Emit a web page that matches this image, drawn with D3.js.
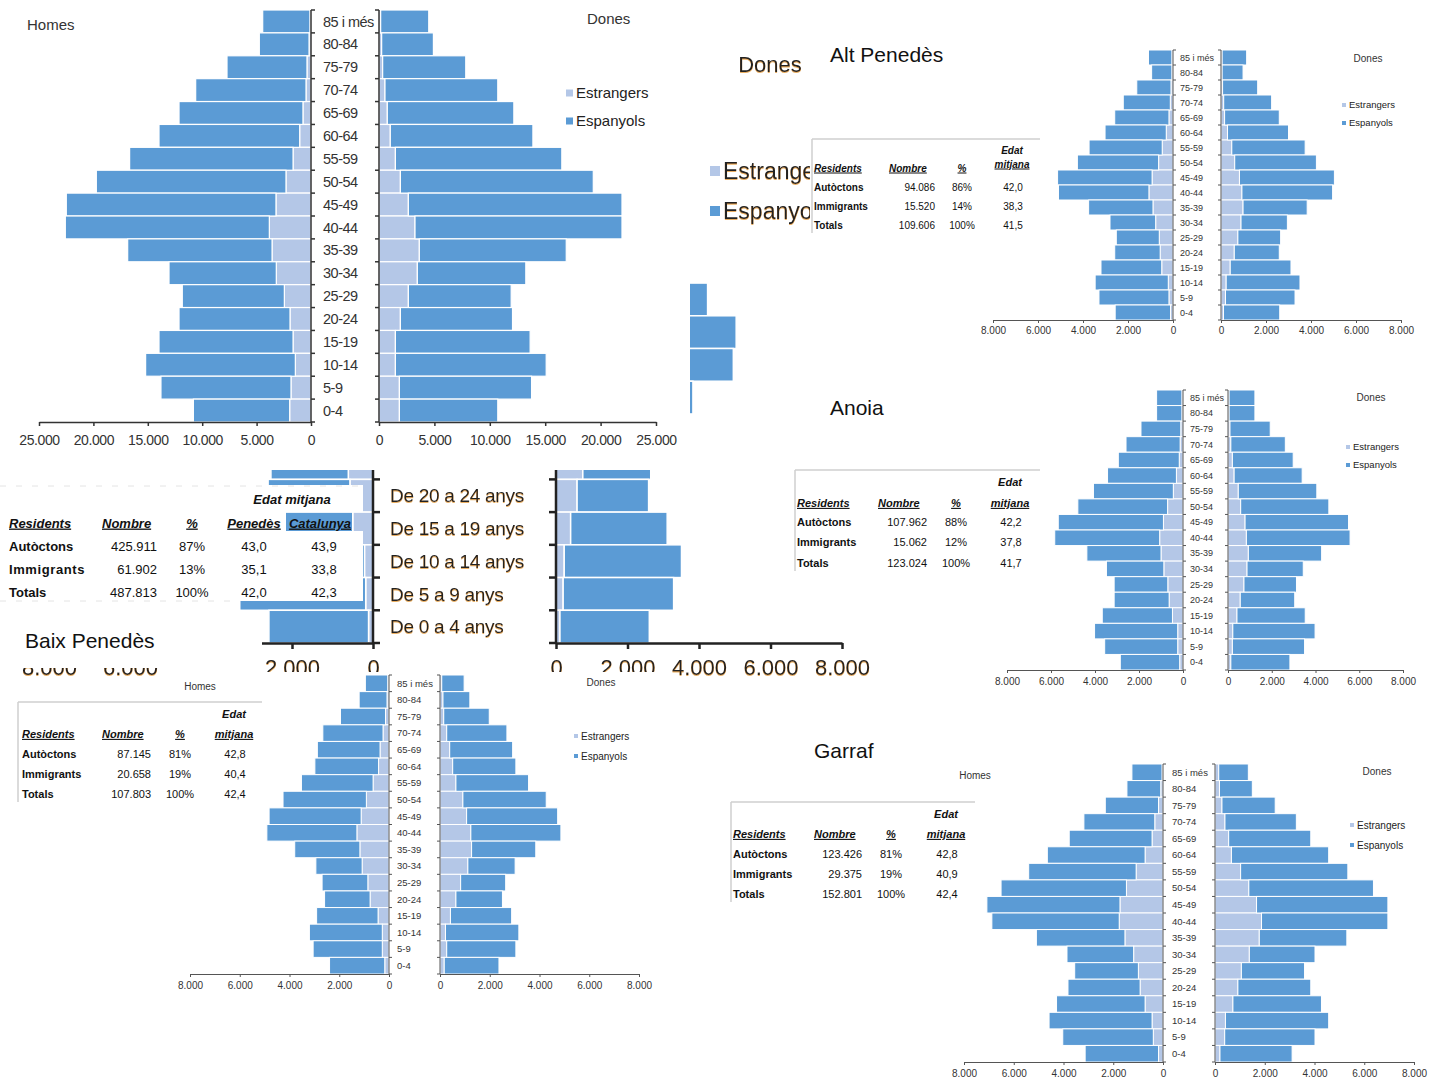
<!DOCTYPE html>
<html><head><meta charset="utf-8">
<script src="https://cdn.jsdelivr.net/npm/d3@7"></script>
<style>
html,body{margin:0;padding:0;background:#fff;}
svg{display:block;}
text{font-family:"Liberation Sans",Arial,sans-serif;}
</style></head><body>
<svg id="c" width="1438" height="1077"></svg>
<script>
// ---------- categories ----------
const ages = ["85 i més","80-84","75-79","70-74","65-69","60-64","55-59","50-54","45-49","40-44","35-39","30-34","25-29","20-24","15-19","10-14","5-9","0-4"];
const zoomAges = ["De 85 anys i més","De 80 a 84 anys","De 75 a 79 anys","De 70 a 74 anys","De 65 a 69 anys","De 60 a 64 anys","De 55 a 59 anys","De 50 a 54 anys","De 45 a 49 anys","De 40 a 44 anys","De 35 a 39 anys","De 30 a 34 anys","De 25 a 29 anys","De 20 a 24 anys","De 15 a 19 anys","De 10 a 14 anys","De 5 a 9 anys","De 0 a 4 anys"];
const legendLabels = ["Estrangers","Espanyols"];

// ---------- Penedès (total) ----------
const penedesHomesEstr  = [100,180,370,460,740,1040,1650,2300,3220,3830,3580,3190,2450,1930,1650,1440,1840,1960];
const penedesHomesTotal = [4440,4750,7720,10600,12130,13970,16670,19730,22490,22580,16850,13050,11830,12130,13970,15200,13790,10810];
const penedesDonesEstr  = [150,240,330,540,750,1020,1480,1930,2650,3250,3640,3460,2650,1930,1480,1480,1840,1840];
const penedesDonesTotal = [4490,4910,7830,10720,12170,13890,16500,19340,21930,21930,16900,13250,11930,12050,13640,15090,13770,10720];

// ---------- Alt Penedès ----------
const altHomesEstr  = [50,50,90,120,180,300,480,640,930,1070,890,770,610,570,500,210,180,110];
const altHomesTotal = [1090,950,1610,2210,2590,3020,3730,4250,5130,5090,3750,2800,2520,2590,3200,3460,3290,2570];
const altDonesEstr  = [50,50,70,120,160,290,480,610,820,930,980,890,750,590,410,230,200,110];
const altDonesTotal = [1140,980,1630,2250,2590,3000,3740,4240,5040,4960,3830,2950,2650,2590,3110,3510,3290,2610];

// ---------- Anoia ----------
const anoiaHomesEstr  = [50,50,100,130,170,300,440,700,890,1060,1000,870,690,630,480,240,240,150];
const anoiaHomesTotal = [1200,1200,1910,2590,2940,3430,4070,4780,5670,5830,4370,3480,3130,3130,3670,4020,3560,2850];
const anoiaDonesEstr  = [50,50,90,130,200,280,470,580,780,840,930,870,730,560,410,220,200,130];
const anoiaDonesTotal = [1230,1230,1930,2620,2980,3390,4060,4610,5510,5580,4280,3440,3130,3050,3530,3980,3500,2830];

// ---------- Baix Penedès ----------
const baixHomesEstr  = [50,80,140,240,360,420,640,910,1120,1290,1170,1080,850,760,440,270,270,170];
const baixHomesTotal = [950,1200,1950,2660,2880,2980,3520,4260,4820,4910,3790,2940,2690,2590,2910,3200,3050,2390];
const baixDonesEstr  = [70,120,150,270,390,510,640,920,1070,1240,1270,1120,830,640,420,220,270,170];
const baixDonesTotal = [970,1200,1980,2690,2920,3050,3560,4270,4730,4860,3850,3020,2640,2510,2880,3170,3050,2370];

// ---------- Garraf ----------
const garrafHomesEstr  = [40,90,180,330,440,720,1080,1470,1730,1760,1530,1180,990,920,720,440,390,180];
const garrafHomesTotal = [1250,1450,2320,3180,3770,4650,5400,6510,7080,6880,5090,3860,3550,3820,4280,4580,4030,3130];
const garrafDonesEstr  = [150,180,280,400,550,660,1030,1360,1670,1870,1780,1380,1060,920,720,420,390,200];
const garrafDonesTotal = [1340,1500,2420,3270,3850,4570,5340,6370,6950,6950,5300,4020,3600,3850,4280,4570,4020,3100];

// ---------- tables ----------
const penedesHeaders = ["Residents","Nombre","%","Penedès","Catalunya"];
const penedesRows = [["Autòctons","425.911","87%","43,0","43,9"],["Immigrants","61.902","13%","35,1","33,8"],["Totals","487.813","100%","42,0","42,3"]];
const compHeaders = ["Residents","Nombre","%","mitjana"];
const altRows   = [["Autòctons","94.086","86%","42,0"],["Immigrants","15.520","14%","38,3"],["Totals","109.606","100%","41,5"]];
const anoiaRows = [["Autòctons","107.962","88%","42,2"],["Immigrants","15.062","12%","37,8"],["Totals","123.024","100%","41,7"]];
const baixRows  = [["Autòctons","87.145","81%","42,8"],["Immigrants","20.658","19%","40,4"],["Totals","107.803","100%","42,4"]];
const garrafRows= [["Autòctons","123.426","81%","42,8"],["Immigrants","29.375","19%","40,9"],["Totals","152.801","100%","42,4"]];

const DARK = "#5b9bd5", LIGHT = "#b4c7e7";
const NARROW = '"Liberation Sans Narrow","Arial Narrow","Liberation Sans",Arial,sans-serif';
const SANS = '"Liberation Sans",Arial,sans-serif';
const fmt = d3.formatLocale({decimal:",",thousands:".",grouping:[3],currency:["",""]}).format(",d");

const svg = d3.select("#c");
const defs = svg.append("defs");
const flt = defs.append("filter").attr("id","ca").attr("x","-5%").attr("y","-20%").attr("width","110%").attr("height","140%");
flt.append("feFlood").attr("flood-color","#e39a3a").attr("flood-opacity",0.8).attr("result","f");
flt.append("feComposite").attr("in","f").attr("in2","SourceAlpha").attr("operator","in").attr("result","o");
flt.append("feOffset").attr("in","o").attr("dx",0).attr("dy",1).attr("result","oo");
flt.append("feMerge").call(m=>{m.append("feMergeNode").attr("in","oo");m.append("feMergeNode").attr("in","SourceGraphic");});
defs.append("clipPath").attr("id","legclip").append("rect").attr("x",0).attr("y",0).attr("width",810).attr("height",1077);

function drawPyramid(root, c) {
  const g = root.append("g");
  const y = d3.scaleBand().domain(c.cats).range([c.top, c.bottom]);
  const xL = d3.scaleLinear().domain([0, c.max]).range([c.lx0, c.lx1]);
  const xR = d3.scaleLinear().domain([0, c.max]).range([c.rx0, c.rx1]);
  const idx = d3.range(c.cats.length);
  const bw = y.bandwidth();
  const bars = g.append("g").attr("stroke","#fff").attr("stroke-width", c.sw);
  bars.selectAll(".hl").data(idx).join("rect").attr("fill",LIGHT)
    .attr("x", i=>xL(c.hE[i])).attr("y", i=>y(c.cats[i])).attr("width", i=>xL(0)-xL(c.hE[i])).attr("height", bw);
  bars.selectAll(".hd").data(idx).join("rect").attr("fill",DARK)
    .attr("x", i=>xL(c.hT[i])).attr("y", i=>y(c.cats[i])).attr("width", i=>xL(c.hE[i])-xL(c.hT[i])).attr("height", bw);
  bars.selectAll(".dl").data(idx).join("rect").attr("fill",LIGHT)
    .attr("x", xR(0)).attr("y", i=>y(c.cats[i])).attr("width", i=>xR(c.dE[i])-xR(0)).attr("height", bw);
  bars.selectAll(".dd").data(idx).join("rect").attr("fill",DARK)
    .attr("x", i=>xR(c.dE[i])).attr("y", i=>y(c.cats[i])).attr("width", i=>xR(c.dT[i])-xR(c.dE[i])).attr("height", bw);
  // vertical axes
  const bounds = c.cats.map(d=>y(d)).concat([c.bottom]);
  const ax = g.append("g").attr("stroke", c.axisColor).attr("stroke-width", c.aw);
  ax.append("line").attr("x1",c.lx0).attr("x2",c.lx0).attr("y1",c.top).attr("y2",c.bottom);
  ax.append("line").attr("x1",c.rx0).attr("x2",c.rx0).attr("y1",c.top).attr("y2",c.bottom);
  ax.selectAll(".tl").data(bounds).join("line").attr("x1",c.lx0).attr("x2",c.lx0+c.vt).attr("y1",d=>d).attr("y2",d=>d);
  ax.selectAll(".tr").data(bounds).join("line").attr("x1",c.rx0).attr("x2",c.rx0-c.vt).attr("y1",d=>d).attr("y2",d=>d);
  // bottom axes
  [xL, xR].forEach(sc=>{
    const a = d3.axisBottom(sc).tickValues(d3.range(0, c.max+1, c.step)).tickFormat(fmt).tickSize(c.ht).tickSizeOuter(0);
    const ag = g.append("g").attr("transform",`translate(0,${c.bottom})`).call(a);
    ag.select(".domain").attr("stroke", c.axisColor).attr("stroke-width", c.aw);
    ag.selectAll(".tick line").attr("stroke", c.axisColor).attr("stroke-width", c.aw);
    ag.selectAll(".tick text").attr("y", c.tickY - c.bottom).attr("dy","0.35em")
      .attr("font-size", c.tfs).attr("font-family", c.ff).attr("fill", c.tc||"#333")
      .attr("filter", c.filter||null).attr("letter-spacing", c.tls||null);
    ag.attr("font-family", null);
  });
  // category labels (only those inside the visible window)
  const minY = c.labelMinY == null ? -1e9 : c.labelMinY;
  g.append("g").selectAll("text").data(c.cats.filter(d=>y(d)+bw/2 >= minY)).join("text")
    .attr("x", c.labelX).attr("y", d=>y(d)+bw/2).attr("dy","0.35em")
    .attr("font-size", c.lfs).attr("font-family", c.ff).attr("fill", c.lc||"#333")
    .attr("filter", c.filter||null).attr("letter-spacing", c.ls||null)
    .text(d=>d);
  return g;
}

function legend(root, x, y0, dy, fs, sq, ff, filter, clip) {
  const g = root.append("g").attr("clip-path", clip||null);
  const cols = [LIGHT, DARK];
  legendLabels.forEach((t,i)=>{
    g.append("rect").attr("x",x).attr("y",y0+i*dy-sq/2).attr("width",sq).attr("height",sq).attr("fill",cols[i]);
    g.append("text").attr("x",x+sq+3).attr("y",y0+i*dy).attr("dy","0.35em").attr("font-size",fs)
      .attr("font-family",ff).attr("fill","#222").attr("filter",filter||null).text(t);
  });
}

function label(root, x, y, t, fs, opts={}) {
  return root.append("text").attr("x",x).attr("y",y).attr("dy","0.35em").attr("font-size",fs)
    .attr("fill",opts.fill||"#222").attr("font-family",opts.ff||null).attr("text-anchor",opts.anchor||"start")
    .attr("filter",opts.filter||null).attr("font-weight",opts.weight||null).text(t);
}

function compTable(root, c, rows) {
  const g = root.append("g").attr("font-size", c.fs).attr("fill","#111");
  g.append("line").attr("x1",c.x0).attr("x2",c.right).attr("y1",c.top).attr("y2",c.top).attr("stroke","#cfcfcf").attr("stroke-width",1.5);
  g.append("line").attr("x1",c.x0).attr("x2",c.x0).attr("y1",c.top).attr("y2",c.rowY0+2*c.step+8).attr("stroke","#cfcfcf").attr("stroke-width",1.5);
  const hdr = (x,y,t,anchor,ul)=>g.append("text").attr("x",x).attr("y",y).attr("dy","0.35em").attr("text-anchor",anchor)
    .attr("font-weight","bold").attr("font-style","italic").attr("text-decoration",ul?"underline":null).text(t);
  hdr(c.edatX, c.edatY, "Edat", "middle", false);
  hdr(c.resX, c.headerY, compHeaders[0], "start", true);
  hdr(c.nomX, c.headerY, compHeaders[1], "start", true);
  hdr(c.pctX, c.headerY, compHeaders[2], "middle", true);
  hdr(c.edatX, c.mitY || c.headerY, compHeaders[3], "middle", true);
  rows.forEach((r,i)=>{
    const yy = c.rowY0 + i*c.step;
    g.append("text").attr("x",c.resX).attr("y",yy).attr("dy","0.35em").attr("font-weight","bold").text(r[0]);
    g.append("text").attr("x",c.nomR).attr("y",yy).attr("dy","0.35em").attr("text-anchor","end").text(r[1]);
    g.append("text").attr("x",c.pctX).attr("y",yy).attr("dy","0.35em").attr("text-anchor","middle").text(r[2]);
    g.append("text").attr("x",c.edatX+1).attr("y",yy).attr("dy","0.35em").attr("text-anchor","middle").text(r[3]);
  });
}

// ===== 1. zoomed Alt Penedès chart (underneath) =====
drawPyramid(svg, {cats: zoomAges, hE: altHomesEstr, hT: altHomesTotal, dE: altDonesEstr, dT: altDonesTotal,
  max: 8000, step: 2000, lx0: 373, lx1: 49, rx0: 556, rx1: 842, top: 54, bottom: 643,
  sw: 1.5, axisColor: "#222", aw: 2.5, vt: 7, ht: 6, tickY: 667, tfs: 22, ff: SANS,
  labelX: 390, lfs: 19, lc: "#222", filter: "url(#ca)", ls: "-0.3", tc: "#222", labelMinY: 475});
label(svg, 770, 64, "Dones", 22, {anchor:"middle", filter:"url(#ca)"});
legend(svg, 710, 171, 40, 23, 10, SANS, "url(#ca)", "url(#legclip)");

// ===== 2. Penedès big pyramid =====
svg.append("rect").attr("x",0).attr("y",0).attr("width",690).attr("height",470).attr("fill","#fff");
drawPyramid(svg, {cats: ages, hE: penedesHomesEstr, hT: penedesHomesTotal, dE: penedesDonesEstr, dT: penedesDonesTotal,
  max: 25000, step: 5000, lx0: 311, lx1: 39, rx0: 379, rx1: 656, top: 10, bottom: 422,
  sw: 1.2, axisColor: "#333", aw: 1.5, vt: 4, ht: 4, tickY: 440, tfs: 14, tls: "-0.4", ff: SANS,
  labelX: 323, lfs: 14.5, lc: "#333", ls: "-0.5"});
label(svg, 27, 25, "Homes", 15, {fill:"#333"});
label(svg, 587, 19, "Dones", 15, {fill:"#333"});
legend(svg, 566, 93, 28, 15, 7, SANS);

// ===== 3. Alt Penedès =====
svg.append("rect").attr("x",810).attr("y",0).attr("width",628).attr("height",345).attr("fill","#fff");
label(svg, 830, 55, "Alt Penedès", 21, {fill:"#111"});
drawPyramid(svg, {cats: ages, hE: altHomesEstr, hT: altHomesTotal, dE: altDonesEstr, dT: altDonesTotal,
  max: 8000, step: 2000, lx0: 1173, lx1: 993, rx0: 1221, rx1: 1401, top: 50, bottom: 320,
  sw: 1, axisColor: "#555", aw: 1, vt: 3, ht: 3, tickY: 330, tfs: 10, ff: NARROW,
  labelX: 1180, lfs: 9, lc: "#333"});
label(svg, 1368, 58, "Dones", 10, {anchor:"middle", ff: NARROW, fill:"#333"});
legend(svg, 1342, 105, 18, 9.5, 4, NARROW);
compTable(svg, {x0:812, right:1040, top:139, fs:10, edatX:1012, edatY:150, headerY:168, mitY:164, resX:814, nomX:889, nomR:935, pctX:962, rowY0:187, step:19}, altRows);

// ===== 4. Penedès summary table (over zoom chart) =====
const tw = svg.append("g").attr("fill","#fff");
tw.append("rect").attr("x",0).attr("y",485).attr("width",363).attr("height",27);
tw.append("rect").attr("x",0).attr("y",512).attr("width",286).attr("height",19);
tw.append("rect").attr("x",0).attr("y",531).attr("width",363).attr("height",70);
svg.append("line").attr("x1",0).attr("x2",363).attr("y1",486).attr("y2",486).attr("stroke","#e4e4e4").attr("stroke-dasharray","6,10");
svg.append("line").attr("x1",0).attr("x2",240).attr("y1",601).attr("y2",601).attr("stroke","#e4e4e4").attr("stroke-dasharray","6,10");
{
  const g = svg.append("g").attr("font-size",13).attr("fill","#111");
  g.append("text").attr("x",292).attr("y",499).attr("dy","0.35em").attr("text-anchor","middle").attr("font-weight","bold").attr("font-style","italic").text("Edat mitjana");
  const hx = [[9,"start"],[102,"start"],[192,"middle"],[254,"middle"],[320,"middle"]];
  penedesHeaders.forEach((h,i)=>g.append("text").attr("x",hx[i][0]).attr("y",523).attr("dy","0.35em").attr("text-anchor",hx[i][1])
    .attr("font-weight","bold").attr("font-style","italic").attr("text-decoration","underline").text(h));
  const cx = [[9,"start"],[157,"end"],[192,"middle"],[254,"middle"],[324,"middle"]];
  penedesRows.forEach((r,j)=>r.forEach((v,i)=>g.append("text").attr("x",cx[i][0]).attr("y",546+j*23).attr("dy","0.35em")
    .attr("text-anchor",cx[i][1]).attr("font-weight",i===0?"bold":null).attr("letter-spacing",(i===0&&j===1)?"0.6":null).text(v)));
}

// ===== 5. Anoia =====
label(svg, 830, 408, "Anoia", 21, {fill:"#111"});
drawPyramid(svg, {cats: ages, hE: anoiaHomesEstr, hT: anoiaHomesTotal, dE: anoiaDonesEstr, dT: anoiaDonesTotal,
  max: 8000, step: 2000, lx0: 1183, lx1: 1007, rx0: 1228, rx1: 1403, top: 390, bottom: 670,
  sw: 1, axisColor: "#555", aw: 1, vt: 3, ht: 3, tickY: 681, tfs: 10, ff: NARROW,
  labelX: 1190, lfs: 9, lc: "#333"});
label(svg, 1371, 397, "Dones", 10, {anchor:"middle", ff: NARROW, fill:"#333"});
legend(svg, 1346, 447, 18, 9.5, 4, NARROW);
compTable(svg, {x0:795, right:1040, top:470, fs:11, edatX:1010, edatY:482, headerY:503, resX:797, nomX:878, nomR:927, pctX:956, rowY0:522, step:20.5}, anoiaRows);

// ===== 6. Baix Penedès =====
svg.append("rect").attr("x",0).attr("y",611).attr("width",262).attr("height",57).attr("fill","#fff");
svg.append("rect").attr("x",160).attr("y",665).attr("width",102).attr("height",340).attr("fill","#fff");
svg.append("rect").attr("x",262).attr("y",672).attr("width",398).attr("height",330).attr("fill","#fff");
label(svg, 25, 641, "Baix Penedès", 21, {fill:"#111"});
drawPyramid(svg, {cats: ages, hE: baixHomesEstr, hT: baixHomesTotal, dE: baixDonesEstr, dT: baixDonesTotal,
  max: 8000, step: 2000, lx0: 389, lx1: 190, rx0: 440, rx1: 639, top: 675, bottom: 974,
  sw: 1, axisColor: "#555", aw: 1, vt: 3, ht: 3, tickY: 985, tfs: 10, ff: NARROW,
  labelX: 397, lfs: 9.5, lc: "#333"});
label(svg, 200, 686, "Homes", 10, {anchor:"middle", ff: NARROW, fill:"#333"});
label(svg, 601, 682, "Dones", 10, {anchor:"middle", ff: NARROW, fill:"#333"});
legend(svg, 574, 736, 20, 10, 4, NARROW);
compTable(svg, {x0:18, right:262, top:702, fs:11, edatX:234, edatY:714, headerY:734, resX:22, nomX:102, nomR:151, pctX:180, rowY0:754, step:20}, baixRows);

// ===== 7. Garraf =====
label(svg, 814, 751, "Garraf", 21, {fill:"#111"});
drawPyramid(svg, {cats: ages, hE: garrafHomesEstr, hT: garrafHomesTotal, dE: garrafDonesEstr, dT: garrafDonesTotal,
  max: 8000, step: 2000, lx0: 1163, lx1: 964, rx0: 1215, rx1: 1414, top: 764, bottom: 1062,
  sw: 1, axisColor: "#555", aw: 1, vt: 3, ht: 3, tickY: 1073, tfs: 10, ff: NARROW,
  labelX: 1172, lfs: 9.5, lc: "#333"});
label(svg, 975, 775, "Homes", 10, {anchor:"middle", ff: NARROW, fill:"#333"});
label(svg, 1377, 771, "Dones", 10, {anchor:"middle", ff: NARROW, fill:"#333"});
legend(svg, 1350, 825, 20, 10, 4, NARROW);
compTable(svg, {x0:731, right:975, top:802, fs:11, edatX:946, edatY:814, headerY:834, resX:733, nomX:814, nomR:862, pctX:891, rowY0:854, step:20}, garrafRows);
</script>
</body></html>
